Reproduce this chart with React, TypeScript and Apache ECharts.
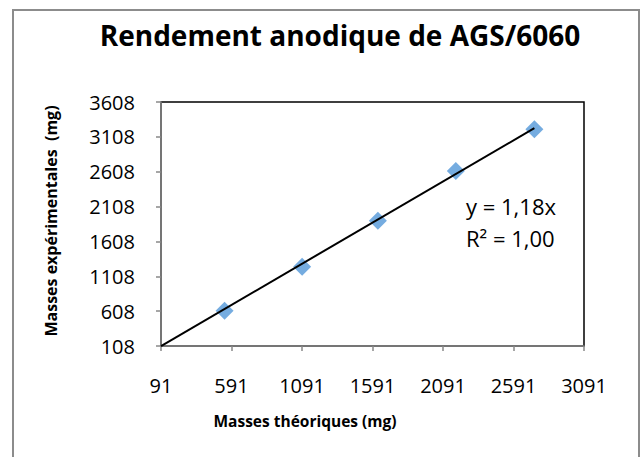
import React, { useEffect, useRef } from "react";
import * as echarts from "echarts";

const massesTheoriques = [542, 1092, 1629, 2182, 2739];
const massesExperimentales = [614, 1244, 1903, 2619, 3217];
const trendSlope = 1.18;
const trendXRange = [91, 2739];
const equationLines = ["y = 1,18x", "R² = 1,00"];

const FONT = "'Open Sans', 'Noto Sans', sans-serif";

export default function App() {
  const ref = useRef<HTMLDivElement>(null);
  useEffect(() => {
    if (!ref.current) return;
    const chart = echarts.init(ref.current, null, { renderer: "svg" });
    const points = massesTheoriques.map((x, i) => [x, massesExperimentales[i]]);
    const trend = trendXRange.map((x) => [x, x * trendSlope]);
    chart.setOption({
      animation: false,
      backgroundColor: "#ffffff",
      title: {
        text: "Rendement anodique de AGS/6060",
        left: 335,
        top: 16,
        textAlign: "center",
        textStyle: { fontFamily: FONT, fontSize: 28, fontWeight: "bold", color: "#000" },
      },
      grid: { left: 161, right: 57, top: 102, bottom: 111, show: true, borderColor: "#000", borderWidth: 1.5 },
      xAxis: {
        type: "value",
        min: 91,
        max: 3091,
        interval: 500,
        axisLine: { show: true, onZero: false, lineStyle: { color: "#888", width: 1.5 } },
        axisTick: { show: true, length: 5, lineStyle: { color: "#888", width: 1.5 } },
        splitLine: { show: false },
        axisLabel: { fontFamily: FONT, fontSize: 20, color: "#000", margin: 29, formatter: (v: number) => String(v) },
      },
      yAxis: {
        type: "value",
        min: 108,
        max: 3608,
        interval: 500,
        axisLine: { show: true, onZero: false, lineStyle: { color: "#888", width: 1.5 } },
        axisTick: { show: true, length: 5, lineStyle: { color: "#888", width: 1.5 } },
        splitLine: { show: false },
        axisLabel: { fontFamily: FONT, fontSize: 20, color: "#000", margin: 26, formatter: (v: number) => String(v) },
      },
      series: [
        {
          type: "line",
          data: trend,
          symbol: "none",
          lineStyle: { color: "#000", width: 2 },
          z: 3,
        },
        {
          type: "scatter",
          data: points,
          symbol: "diamond",
          symbolSize: 18,
          itemStyle: { color: "#5397D8" },
          z: 2,
        },
      ],
      graphic: [
        {
          type: "rect",
          shape: { x: 13, y: 10, width: 626, height: 460 },
          style: { fill: "none", stroke: "#8c8c8c", lineWidth: 2 },
          silent: true,
        },
        {
          type: "text",
          x: 305,
          y: 421,
          style: {
            text: "Masses théoriques (mg)",
            font: `bold 15.5px ${FONT}`,
            fill: "#000",
            align: "center",
            verticalAlign: "middle",
          },
        },
        {
          type: "text",
          x: 51,
          y: 221,
          rotation: Math.PI / 2,
          style: {
            text: "Masses expérimentales  (mg)",
            font: `bold 16px ${FONT}`,
            fill: "#000",
            align: "center",
            verticalAlign: "middle",
          },
        },
        {
          type: "text",
          x: 466,
          y: 206,
          style: { text: equationLines[0], font: `22px ${FONT}`, fill: "#000", verticalAlign: "middle" },
        },
        {
          type: "text",
          x: 466,
          y: 238,
          style: { text: equationLines[1], font: `22px ${FONT}`, fill: "#000", verticalAlign: "middle" },
        },
      ],
    });
    return () => chart.dispose();
  }, []);
  return (
    <div
      ref={ref}
      style={{ position: "fixed", left: 0, top: 0, width: 641, height: 457 }}
    />
  );
}
